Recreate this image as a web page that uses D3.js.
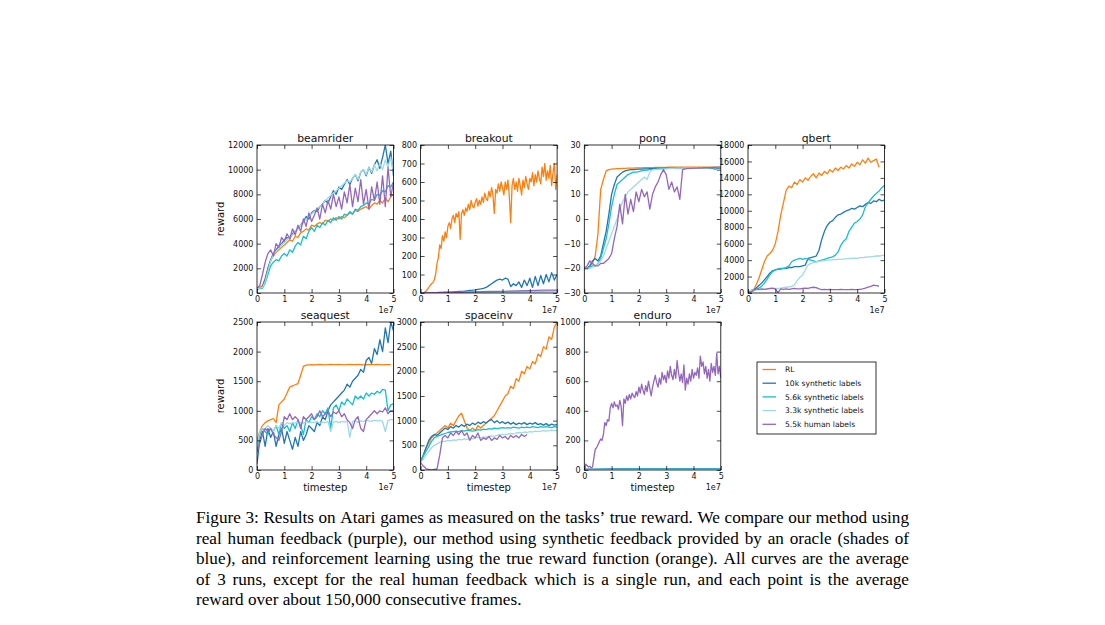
<!DOCTYPE html>
<html>
<head>
<meta charset="utf-8">
<script src="https://cdn.jsdelivr.net/npm/d3@7"></script>
<style>
  body { margin: 0; background: #fff; }
</style>
</head>
<body>
<div id="chart"></div>
<script>
// Atari results, reward vs timestep (x in units of 1e7)

const games = ['beamrider', 'breakout', 'pong', 'qbert', 'seaquest', 'spaceinv', 'enduro']
const yDomains = [[0, 12000], [0, 800], [-30, 30], [0, 18000], [0, 2500], [0, 3000], [0, 1000]]
const yTickSteps = [2000, 100, 10, 2000, 500, 500, 200]
const xTicks = [0, 1, 2, 3, 4, 5]
const seriesLabels = ['RL', '10k synthetic labels', '5.6k synthetic labels', '3.3k synthetic labels', '5.5k human labels']
const colors = ['#ff7f0e', '#1f77b4', '#17becf', '#9edae5', '#9467bd']

// y values, evenly spaced between the start and end given in xSpans
const beamriderRL = [400,450,600,1200,2000,2600,3000,3300,3500,3700,
  3900,4100,4300,4200,4600,4500,4900,5000,5200,5100,
  5500,5400,5600,5700,5600,5900,5800,6000,5900,6100,
  6000,6200,6100,6300,6500,6400,6700,6600,6800,6900,
  7000,6800,7100,7300,7200,7500,7300,7700,7400,7800,8000]
const beamrider10k = [350,400,500,1100,2000,2700,3200,3500,3800,4000,
  4300,4500,4400,4800,5000,5200,5500,5800,6200,6000,
  6500,6700,6600,7000,7200,7500,7300,7800,8300,8000,
  8600,8400,8800,9200,8800,9300,9600,9100,9800,10000,
  9500,10200,9700,10400,10800,10100,11000,12000,10500,11500,9500]
const beamrider5k6 = [300,350,400,800,1500,2200,2500,2700,2600,3000,
  3200,3000,3500,3300,3800,4100,3900,4600,4400,5000,
  5300,5000,5500,5300,5700,5500,5900,5700,6100,5900,
  6200,6000,6400,6300,6600,6400,6800,6700,7000,7100,
  7300,7200,7600,7500,8000,7900,8300,8200,8700,8600,9000]
const beamrider3k3 = [350,400,450,900,1800,2600,3100,3400,3600,3900,
  4100,4300,4500,4700,5000,5200,5500,5700,6000,6200,
  6400,6600,6800,7000,7200,7500,7700,7900,8100,8300,
  8500,8700,8900,9100,9000,9300,9600,9200,9800,10000,
  9600,10200,9800,10400,9900,10500,10000,10800,10200,11000,9800]
const beamriderHuman = [400,600,1500,2500,3200,3500,3000,4000,3700,4500,
  4200,4800,4400,5200,4700,5500,5000,6000,5400,6500,
  5800,6300,6900,6000,7200,6500,7500,6800,8000,7000,
  7800,6800,8200,7300,8800,7000,8500,7400,9200,7200,
  8400,6800,8600,7500,9000,7200,9500,7000,10200,7800,9000]

const breakoutRL = [0,5,10,20,30,40,50,55,70,100,
  160,190,260,240,310,280,330,300,360,380,
  350,400,420,380,430,410,440,290,430,450,
  420,460,440,480,450,500,470,460,490,510,
  470,500,480,520,490,540,510,500,550,520,
  570,530,430,560,540,590,550,600,570,530,
  600,560,610,520,380,580,620,560,600,550,
  620,580,530,610,570,630,590,560,620,600,
  650,580,640,600,660,620,590,680,630,700,
  610,660,620,690,580,650,700,560,640]
const breakout10k = [0,0,0,1,1,2,2,3,3,4,
  5,5,6,7,8,9,10,12,14,15,
  17,20,22,25,30,40,50,60,70,75,
  70,80,75,35,50,40,60,30,70,40,
  80,30,90,40,95,50,100,60,110,70,100]
const breakout5k6 = [0,1,2,3,4,5,6,7,8,9,10]
const breakout3k3 = [0,1,1,2,3,4,4,5,6,6,7]
const breakoutHuman = [0,2,3,4,6,8,9,11,13,15,16]

const pongRL = [-20,-20,-19,-18,-15,-6,12,16,19.5,20,
  20.2,20.3,20.4,20.4,20.5,20.5,20.6,20.6,20.6,20.7,
  20.7,20.7,20.8,20.8,20.8,20.8,20.9,20.9,20.9,20.9,
  20.9,21,21,21,21,21,21,21,21,21,
  21,21,21,21,21,21,21,21,21,21,21]
const pong10k = [-20,-20,-19,-17,-16,-17,-15,-10,-5,2,
  10,14,17,18,19,19.5,19.8,20,20,20.1,
  20.2,20.2,20.3,20.3,20.4,20.4,20.5,20.5,20.5,20.5,
  20.6,20.6,20.6,20.6,20.6,20.7,20.7,20.7,20.7,20.7,
  20.7,20.7,20.7,20.7,20.7,20.7,20.6,20.5,20.2,20.6,20.4]
const pong5k6 = [-20,-20,-19.5,-19,-19,-18,-16,-12,-8,-2,
  5,10,14,15,16,17,18,18.5,19,19,
  19.2,19.5,19.7,19.8,20,20,20.2,20.3,20.4,20.5,
  20.5,20.6,20.6,20.6,20.7,20.7,20.7,20.7,20.8,20.8,
  20.8,20.8,20.8,20.8,20.8,20.8,20.8,20.8,20.8,20.8,20.8]
const pong3k3 = [-20,-20,-20,-19.5,-19,-18,-17,-15,-12,-9,
  -6,-3,0,4,7,9,11,12,13,14,
  15,16,17,16,19,20,20,20.1,20.2,20.2,
  20.3,20.4,20.5,20.5,20.6,20.6,20.6,20.7,20.7,20.7,
  20.7,20.8,20.8,20.8,20.8,20.8,20.8,20.8,20.8,20.8,20.8]
const pongHuman = [-20,-19,-17,-18,-19,-19,-18,-18,-17,-16,
  -14,-8,-3,6,-2,10,2,8,3,11,
  7,12,9,11,4,10,13,15,18,20,
  18,12,15,11,13,8,20,20.3,20.5,20.5,
  20.6,20.6,20.7,20.7,20.8,20.8,20.8,20.9,20.9,21,21]

const qbertRL = [0,50,300,1000,1800,2800,3800,4500,4800,5200,
  6000,7500,9500,11000,12500,13000,12800,13500,13200,13800,
  13500,14000,13700,14200,14500,14000,14600,14300,14800,14500,
  15000,14700,15200,14900,15300,15100,15500,15200,15700,15400,
  15900,15600,16200,15800,16400,15900,16100,16300,15300]
const qbert10k = [200,300,400,600,900,1200,1600,2000,2400,2700,
  2800,2900,2900,3000,3000,3100,3100,3200,3200,3200,
  3300,3400,4200,4300,4400,4500,5200,6500,7500,8200,
  8600,8800,9200,9500,9600,9800,10000,10100,10300,10200,
  10400,10600,10500,10800,11000,10900,11200,11100,11400,11200,11300]
const qbert5k6 = [200,300,350,450,600,800,1200,1700,2200,2600,
  2800,2900,3000,3000,3100,3300,3800,4000,4100,4200,
  4100,4200,4100,4000,3900,3800,3900,4000,4100,4200,
  4300,4400,4600,5000,5800,6300,6600,7500,8000,8500,
  8700,9000,9500,10500,11000,11400,11800,12100,12400,12800,13100]
const qbert3k3 = [300,320,350,370,400,420,450,470,500,520,
  550,570,600,650,700,750,800,1000,1500,1900,
  2200,2800,3400,3600,3700,3800,3850,3900,3950,4000,
  4000,4050,4050,4100,4100,4150,4150,4200,4200,4250,
  4200,4300,4300,4350,4400,4400,4450,4500,4500,4550,4600]
const qbertHuman = [0,100,300,500,450,500,450,500,550,600,
  500,50,500,450,500,450,500,550,500,500,
  550,600,550,650,700,650,500,400,450,400,
  450,400,420,400,450,400,420,400,430,400,
  400,450,500,600,700,800,950,900,850]

const seaquestRL = [500,650,750,800,830,850,870,800,1100,1150,
  1200,1300,1400,1420,1440,1460,1600,1750,1770,1775,
  1780,1775,1780,1785,1780,1775,1780,1785,1780,1780,
  1785,1780,1775,1780,1785,1780,1780,1785,1780,1775,
  1780,1785,1780,1780,1785,1780,1775,1780,1780,1780]
const seaquest10k = [100,500,650,400,700,550,650,400,600,700,
  450,650,500,350,550,400,650,500,600,750,
  700,650,800,750,900,850,1000,1100,1150,1200,
  1250,1300,1350,1450,1400,1500,1550,1600,1700,1650,
  1850,1900,1800,2050,1950,2200,2000,2400,2150,2500,2350]
const seaquest5k6 = [300,600,700,650,600,700,650,750,600,800,
  700,750,650,800,700,850,750,600,850,800,
  900,850,950,900,1000,950,1050,700,1050,1100,
  1000,1150,1100,1200,1150,1100,1250,1200,1250,1200,
  1300,1250,1300,1280,1330,1300,1360,1350,1000,1100,1120]
const seaquest3k3 = [400,650,700,700,750,700,650,750,700,800,
  750,800,780,800,790,810,800,790,820,800,
  810,800,820,790,810,800,820,650,810,820,
  800,820,810,830,550,820,830,800,830,820,
  840,830,820,840,830,840,820,650,840,850,850]
const seaquestHuman = [300,450,600,700,650,700,600,550,500,650,
  900,850,950,850,900,850,700,900,850,900,
  950,850,900,1000,900,950,1000,900,980,950,
  1000,900,950,850,800,700,850,900,700,650,
  850,900,950,1000,950,1000,980,1050,950,1000,1000]

const spaceinvRL = [200,300,450,550,650,700,750,800,850,900,
  850,950,900,1000,1100,1150,1000,850,800,850,
  800,900,850,900,950,1000,1050,1100,1200,1300,
  1400,1500,1550,1700,1650,1850,1800,2000,1950,2100,
  2050,2200,2150,2350,2300,2500,2450,2700,2650,2900,3000]
const spaceinv10k = [150,300,450,600,680,720,700,750,800,850,
  820,880,850,900,870,920,880,930,900,950,
  920,970,940,980,950,1000,1020,960,1000,950,
  980,940,970,930,960,920,950,930,960,920,
  950,930,960,920,940,910,940,900,930,910,920]
const spaceinv5k6 = [200,280,380,480,580,650,680,700,720,740,
  760,770,780,790,780,800,790,810,800,790,
  800,820,810,830,820,840,830,850,840,850,
  860,850,860,850,870,860,850,870,860,870,
  860,880,870,860,880,870,880,870,860,880,870]
const spaceinv3k3 = [150,220,300,380,450,500,530,560,580,580,
  600,590,610,600,620,610,630,620,640,630,
  650,660,650,670,660,680,690,680,700,710,
  720,710,730,740,730,750,760,750,770,760,
  780,770,790,780,790,800,790,800,810,800,800]
const spaceinvHuman = [150,80,30,10,0,10,20,300,650,700,
  650,750,700,780,720,800,700,750,600,700,
  650,750,600,650,620,680,600,650,620,700,
  650,680,620,700,660,700,650,720,680,720]

const enduroRL = [0,0,1,1,1,1,1,1,1,1,1]
const enduro10k = [5,6,7,7,8,8,8,8,8,8,8]
const enduro5k6 = [3,4,4,5,5,5,5,5,5,5,5]
const enduro3k3 = [2,2,3,3,3,3,3,3,3,3,3]
const enduroHuman = [0,40,30,20,25,15,20,80,140,150,
  170,190,210,200,240,320,300,340,330,420,
  450,420,460,430,440,410,470,430,300,480,
  450,500,470,510,480,520,500,490,530,500,
  560,520,580,540,510,570,530,600,550,500,
  560,600,640,590,560,620,580,660,610,640,
  590,670,620,700,640,610,680,620,740,660,
  600,650,590,710,540,620,580,650,600,680,
  620,660,640,690,620,770,700,730,650,700,
  620,680,600,720,660,700,640,790,650,700,620]

const seriesByGame = [
  [beamriderRL, beamrider10k, beamrider5k6, beamrider3k3, beamriderHuman],
  [breakoutRL, breakout10k, breakout5k6, breakout3k3, breakoutHuman],
  [pongRL, pong10k, pong5k6, pong3k3, pongHuman],
  [qbertRL, qbert10k, qbert5k6, qbert3k3, qbertHuman],
  [seaquestRL, seaquest10k, seaquest5k6, seaquest3k3, seaquestHuman],
  [spaceinvRL, spaceinv10k, spaceinv5k6, spaceinv3k3, spaceinvHuman],
  [enduroRL, enduro10k, enduro5k6, enduro3k3, enduroHuman]
]
// first and last timestep (1e7) of each series; anything not listed spans 0..5
const xSpans = {
  breakout: [[0.1, 5]],
  qbert: [[0, 4.8], null, null, null, [0, 4.8]],
  seaquest: [[0, 4.9]],
  spaceinv: [null, null, null, null, [0, 3.9]]
}

const captionLines = [
  'Figure 3: Results on Atari games as measured on the tasks\u2019 true reward. We compare our method using',
  'real human feedback (purple), our method using synthetic feedback provided by an oracle (shades of',
  'blue), and reinforcement learning using the true reward function (orange).  All curves are the average',
  'of 3 runs, except for the real human feedback which is a single run, and each point is the average',
  'reward over about 150,000 consecutive frames.'
]

// Layout
const width = 1105
const height = 625
const colLeft = [257, 420.6, 584.3, 748]
const rowTop = [145, 322]
const pw = 136.5
const ph = 148
const tickFont = 'DejaVu Sans, sans-serif'

const svg = d3.select('#chart')
  .append('svg')
  .attr('width', width)
  .attr('height', height)
  .style('font-family', tickFont)

const defs = svg.append('defs')

const xScale = d3.scaleLinear().domain([0, 5]).range([0, pw])

games.forEach((game, gi) => {
  const row = gi < 4 ? 0 : 1
  const col = gi < 4 ? gi : gi - 4
  const left = colLeft[col]
  const top = rowTop[row]

  const yScale = d3.scaleLinear().domain(yDomains[gi]).range([ph, 0])
  const yTicks = d3.range(yDomains[gi][0], yDomains[gi][1] + 1e-9, yTickSteps[gi])

  const g = svg.append('g')
    .attr('transform', `translate(${left},${top})`)

  defs.append('clipPath')
    .attr('id', `clip-${game}`)
    .append('rect')
    .attr('width', pw)
    .attr('height', ph)

  // Lines
  const gLines = g.append('g').attr('clip-path', `url(#clip-${game})`)
  const spans = xSpans[game] || []
  seriesByGame[gi].forEach((values, si) => {
    const span = spans[si] || [0, 5]
    const step = (span[1] - span[0]) / (values.length - 1)
    const pts = values.map((v, i) => [span[0] + i * step, v])
    const line = d3.line()
      .x(d => xScale(d[0]))
      .y(d => yScale(d[1]))
    gLines.append('path')
      .attr('d', line(pts))
      .style('fill', 'none')
      .style('stroke', colors[si])
      .style('stroke-width', 1.3)
      .style('stroke-linejoin', 'round')
  })

  // Axes - ticks point inwards on all four sides
  const fmt = d => d < 0 ? '\u2212' + Math.abs(d) : String(d)
  const axes = [
    g.append('g').attr('transform', `translate(0,${ph})`)
      .call(d3.axisBottom(xScale).tickValues(xTicks).tickSize(-4).tickSizeOuter(0).tickPadding(3.4).tickFormat(fmt)),
    g.append('g')
      .call(d3.axisLeft(yScale).tickValues(yTicks).tickSize(-4).tickSizeOuter(0).tickPadding(3.6).tickFormat(fmt)),
    g.append('g')
      .call(d3.axisTop(xScale).tickValues(xTicks).tickSize(-4).tickSizeOuter(0).tickFormat('')),
    g.append('g').attr('transform', `translate(${pw},0)`)
      .call(d3.axisRight(yScale).tickValues(yTicks).tickSize(-4).tickSizeOuter(0).tickFormat(''))
  ]
  axes.forEach(a => {
    a.attr('font-family', tickFont).attr('font-size', 8)
    a.select('.domain').remove()
    a.selectAll('.tick line').attr('stroke', '#000').attr('stroke-width', 0.7)
    a.selectAll('.tick text').attr('fill', '#111')
  })

  // Frame
  g.append('rect')
    .attr('width', pw)
    .attr('height', ph)
    .style('fill', 'none')
    .style('stroke', '#000')
    .style('stroke-width', 0.8)

  // Title
  g.append('text')
    .attr('x', pw / 2)
    .attr('y', -3.5)
    .style('text-anchor', 'middle')
    .style('font-size', '10.8px')
    .style('fill', '#111')
    .text(game)

  // Offset text
  g.append('text')
    .attr('x', pw)
    .attr('y', ph + 20)
    .style('text-anchor', 'end')
    .style('font-size', '8px')
    .style('fill', '#111')
    .text('1e7')

  if (col === 0) {
    g.append('text')
      .attr('transform', `translate(-33,${ph / 2}) rotate(-90)`)
      .style('text-anchor', 'middle')
      .style('font-size', '10px')
      .style('fill', '#111')
      .text('reward')
  }
  if (row === 1) {
    g.append('text')
      .attr('x', pw / 2)
      .attr('y', ph + 21)
      .style('text-anchor', 'middle')
      .style('font-size', '10px')
      .style('fill', '#111')
      .text('timestep')
  }
})

// Legend
const legend = svg.append('g').attr('transform', 'translate(757,362)')
legend.append('rect')
  .attr('width', 119)
  .attr('height', 72)
  .style('fill', '#fff')
  .style('stroke', '#000')
  .style('stroke-width', 0.8)
seriesLabels.forEach((label, i) => {
  const y = 7.5 + i * 13.7
  legend.append('line')
    .attr('x1', 5.5).attr('x2', 19)
    .attr('y1', y).attr('y2', y)
    .style('stroke', colors[i])
    .style('stroke-width', 1.3)
  legend.append('text')
    .attr('x', 28)
    .attr('y', y + 2.7)
    .style('font-size', '7.6px')
    .style('fill', '#111')
    .text(label)
})

// Caption, justified like the paper
const capLeft = 196
const capRight = 909
const caption = svg.append('g')
  .style('font-family', '"Liberation Serif", "Times New Roman", serif')
  .style('fill', '#000')

// pick the font size so the first line fits the column with ordinary spaces
const probe = caption.append('text').style('font-size', '16px').text(captionLines[0])
const capFont = 16 * (capRight - capLeft) / probe.node().getComputedTextLength() * 0.99
probe.remove()
caption.style('font-size', `${capFont}px`)

captionLines.forEach((lineText, li) => {
  const y = 523 + li * 20.5
  const text = caption.append('text').attr('y', y)
  const words = lineText.split(/ +/)
  const tspans = words.map(w => text.append('tspan').text(w))
  const widths = tspans.map(t => t.node().getComputedTextLength())
  const space = li < captionLines.length - 1
    ? (capRight - capLeft - d3.sum(widths)) / (words.length - 1)
    : capFont * 0.25
  let x = capLeft
  tspans.forEach((t, i) => {
    t.attr('x', x)
    x += widths[i] + space
  })
})
</script>
</body>
</html>
